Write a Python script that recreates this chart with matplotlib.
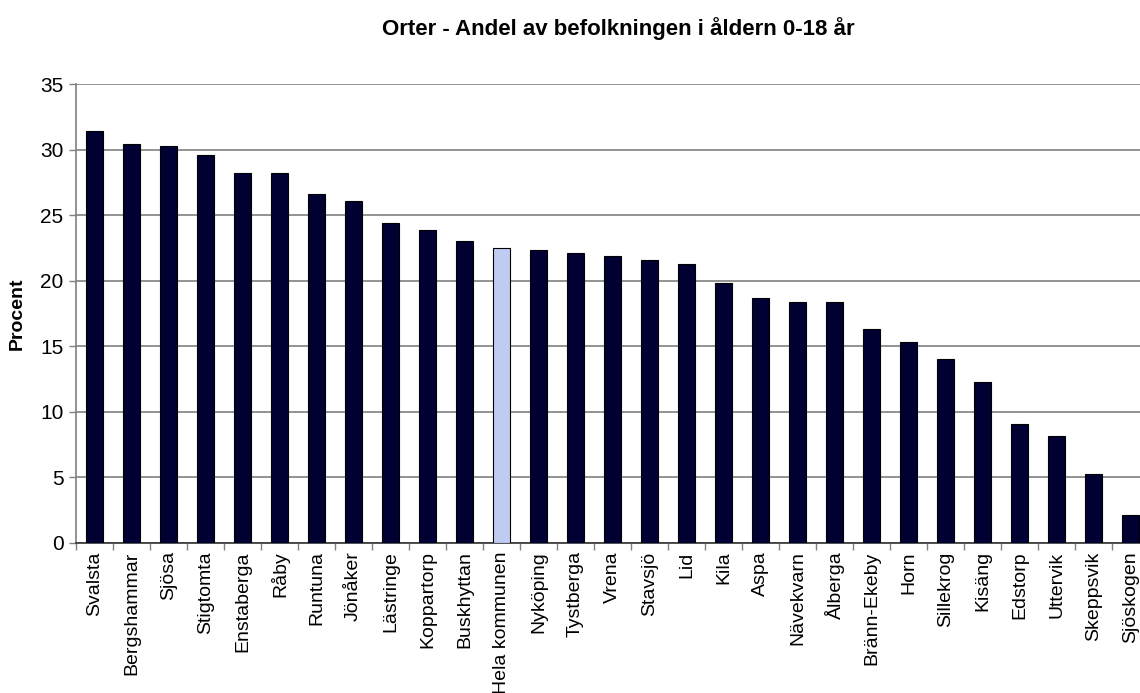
import matplotlib
matplotlib.use("Agg")
import matplotlib.pyplot as plt
from matplotlib.ticker import FixedLocator

plt.rcParams["font.family"] = ["Liberation Sans", "DejaVu Sans"]

orter = ["Svalsta", "Bergshammar", "Sjösa", "Stigtomta", "Enstaberga", "Råby",
         "Runtuna", "Jönåker", "Lästringe", "Koppartorp", "Buskhyttan",
         "Hela kommunen", "Nyköping", "Tystberga", "Vrena", "Stavsjö", "Lid",
         "Kila", "Aspa", "Nävekvarn", "Ålberga", "Bränn-Ekeby", "Horn",
         "Sillekrog", "Kisäng", "Edstorp", "Uttervik", "Skeppsvik", "Sjöskogen"]
andel = [31.4, 30.4, 30.3, 29.6, 28.2, 28.2, 26.6, 26.1, 24.4, 23.9, 23.0,
         22.5, 22.35, 22.1, 21.9, 21.55, 21.3, 19.8, 18.7, 18.4, 18.35, 16.3,
         15.3, 14.0, 12.25, 9.05, 8.15, 5.25, 2.15]
highlight = "Hela kommunen"

NAVY = "#000033"
LIGHT = "#BFCCF2"
GRID = "#808080"

fig = plt.figure(figsize=(11.4, 6.93), dpi=100)
ax = fig.add_axes([76 / 1140, 1 - 543 / 693, 1073 / 1140, 459 / 693])

x = list(range(len(orter)))
colors = [LIGHT if o == highlight else NAVY for o in orter]
ax.bar(x, andel, width=0.45, color=colors, edgecolor="black", linewidth=0.8, zorder=3)

ax.set_xlim(-0.5, len(orter) - 0.5)
ax.set_ylim(0, 35)
ax.set_yticks(range(0, 36, 5))
ax.yaxis.grid(True, color=GRID, linewidth=1.2, zorder=0)
ax.set_axisbelow(True)

ax.set_xticks(x)
ax.set_xticklabels(orter, rotation=90, fontsize=14)
ax.tick_params(axis="x", which="major", length=0, pad=6)
ax.xaxis.set_minor_locator(FixedLocator([i + 0.5 for i in x[:-1]] + [-0.5]))
ax.tick_params(axis="x", which="minor", length=5, color=GRID, width=1)
ax.tick_params(axis="y", labelsize=15, length=5, color=GRID, width=1, pad=4)

for s in ("top", "right"):
    ax.spines[s].set_visible(False)
ax.spines["left"].set_color(GRID)
ax.spines["left"].set_linewidth(1.2)
ax.spines["bottom"].set_color("#333333")
ax.spines["bottom"].set_linewidth(1.2)

ax.set_ylabel("Procent", fontsize=14, fontweight="bold", labelpad=10)
fig.text(618 / 1140, 1 - 29 / 693, "Orter - Andel av befolkningen i åldern 0-18 år",
         ha="center", va="center", fontsize=16, fontweight="bold")

fig.savefig("out.png", dpi=100, facecolor="white")
